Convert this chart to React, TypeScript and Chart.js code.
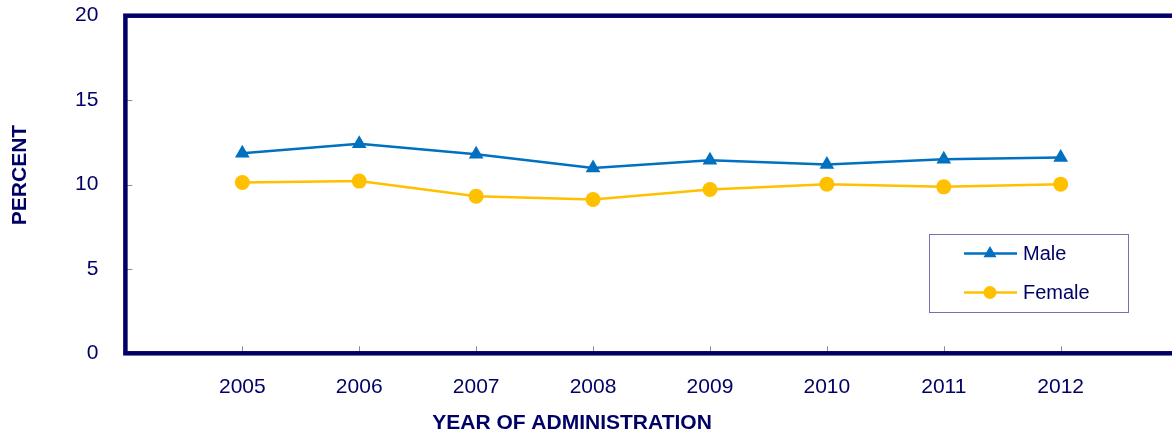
import React, { useEffect, useRef } from 'react';
import { Chart, registerables } from 'chart.js';

Chart.register(...registerables);

const years = [2005, 2006, 2007, 2008, 2009, 2010, 2011, 2012];
const maleValues = [11.85, 12.41, 11.79, 10.98, 11.44, 11.18, 11.5, 11.6];
const femaleValues = [10.12, 10.2, 9.31, 9.11, 9.7, 10.02, 9.86, 10.02];
const yTicks = [0, 5, 10, 15, 20];
const seriesNames = ['Male', 'Female'];
const xTitle = 'YEAR OF ADMINISTRATION';
const yTitle = 'PERCENT';

const NAVY = '#000066';
const MALE = '#0070C0';
const FEMALE = '#FFC000';
const FONT = '"Liberation Sans", Arial, sans-serif';

function drawMarker(ctx: CanvasRenderingContext2D, style: string, x: number, y: number, r: number, color: string) {
  ctx.fillStyle = color;
  ctx.beginPath();
  if (style === 'triangle') {
    let rad = 0;
    ctx.moveTo(x + Math.sin(rad) * r, y - Math.cos(rad) * r);
    rad += (2 * Math.PI) / 3;
    ctx.lineTo(x + Math.sin(rad) * r, y - Math.cos(rad) * r);
    rad += (2 * Math.PI) / 3;
    ctx.lineTo(x + Math.sin(rad) * r, y - Math.cos(rad) * r);
    ctx.closePath();
  } else {
    ctx.arc(x, y, r, 0, Math.PI * 2);
  }
  ctx.fill();
}

const framePlugin = {
  id: 'frame',
  afterDatasetsDraw(chart: any) {
    const { ctx, chartArea: a, scales } = chart;
    ctx.save();
    // inward tick marks
    ctx.strokeStyle = '#8c8c8c';
    ctx.lineWidth = 1;
    yTicks.forEach((v) => {
      const y = Math.round(scales.y.getPixelForValue(v)) + 0.5;
      ctx.beginPath();
      ctx.moveTo(a.left, y);
      ctx.lineTo(a.left + 7, y);
      ctx.stroke();
    });
    years.forEach((v) => {
      const x = Math.round(scales.x.getPixelForValue(v)) + 0.5;
      ctx.beginPath();
      ctx.moveTo(x, a.bottom);
      ctx.lineTo(x, a.bottom - 7);
      ctx.stroke();
    });
    // frame
    ctx.strokeStyle = NAVY;
    ctx.lineWidth = 4.5;
    ctx.strokeRect(a.left, a.top, a.right - a.left, a.bottom - a.top);

    // axis titles
    ctx.fillStyle = NAVY;
    ctx.font = `bold 21px ${FONT}`;
    ctx.textAlign = 'center';
    ctx.textBaseline = 'alphabetic';
    ctx.fillText(xTitle, 572, 429);
    ctx.save();
    ctx.translate(26, 175);
    ctx.rotate(-Math.PI / 2);
    ctx.fillText(yTitle, 0, 0);
    ctx.restore();

    // legend
    const bx = 929.5, by = 234.5, bw = 199, bh = 78;
    ctx.fillStyle = '#ffffff';
    ctx.fillRect(bx, by, bw, bh);
    ctx.strokeStyle = '#7373b0';
    ctx.lineWidth = 1;
    ctx.strokeRect(bx, by, bw, bh);
    const rowsY = [253.5, 292.5];
    chart.data.datasets.forEach((ds: any, i: number) => {
      const y = rowsY[i];
      ctx.strokeStyle = ds.borderColor;
      ctx.lineWidth = 2.5;
      ctx.beginPath();
      ctx.moveTo(964, y);
      ctx.lineTo(1017, y);
      ctx.stroke();
      drawMarker(ctx, ds.pointStyle, 990, y, ds.pointStyle === 'triangle' ? 7.5 : 6.5, ds.borderColor);
      ctx.fillStyle = NAVY;
      ctx.font = `20px ${FONT}`;
      ctx.textAlign = 'left';
      ctx.textBaseline = 'middle';
      ctx.fillText(ds.label, 1023, y + 1);
    });
    ctx.restore();
  },
};

export default function App() {
  const ref = useRef<HTMLCanvasElement>(null);
  useEffect(() => {
    if (!ref.current) return;
    const chart = new Chart(ref.current, {
      type: 'line',
      data: {
        datasets: [
          {
            label: seriesNames[0],
            data: years.map((x, i) => ({ x, y: maleValues[i] })),
            borderColor: MALE,
            backgroundColor: MALE,
            borderWidth: 2.5,
            pointStyle: 'triangle',
            pointRadius: 8.5,
            pointBorderWidth: 0,
            pointBackgroundColor: MALE,
            tension: 0,
          },
          {
            label: seriesNames[1],
            data: years.map((x, i) => ({ x, y: femaleValues[i] })),
            borderColor: FEMALE,
            backgroundColor: FEMALE,
            borderWidth: 2.5,
            pointStyle: 'circle',
            pointRadius: 7.5,
            pointBorderWidth: 0,
            pointBackgroundColor: FEMALE,
            tension: 0,
          },
        ],
      },
      options: {
        animation: false,
        responsive: false,
        devicePixelRatio: 1,
        layout: { padding: { top: 15.7, right: 12.4, left: 0, bottom: 0 } },
        plugins: { legend: { display: false }, tooltip: { enabled: false } },
        scales: {
          x: {
            type: 'linear',
            min: years[0] - 1,
            max: years[years.length - 1] + 1,
            grid: { display: false },
            border: { display: false },
            afterFit: (s: any) => {
              s.height = 80.7;
              s.paddingLeft = 0;
              s.paddingRight = 0;
            },
            ticks: {
              stepSize: 1,
              autoSkip: false,
              maxRotation: 0,
              padding: 13,
              color: NAVY,
              font: { family: FONT, size: 21 },
              callback: (v: any) => (years.includes(Number(v)) ? String(v) : ''),
            },
          },
          y: {
            min: yTicks[0],
            max: yTicks[yTicks.length - 1],
            grid: { display: false },
            border: { display: false },
            afterFit: (s: any) => {
              s.width = 125.4;
              s.paddingTop = 0;
              s.paddingBottom = 0;
            },
            ticks: {
              stepSize: 5,
              padding: 19,
              color: NAVY,
              font: { family: FONT, size: 21 },
            },
          },
        },
      },
      plugins: [framePlugin],
    });
    return () => chart.destroy();
  }, []);
  return (
    <div style={{ position: 'absolute', left: 0, top: 0, width: 1172, height: 434, overflow: 'hidden', background: '#fff' }}>
      <canvas ref={ref} width={1190} height={434} style={{ width: 1190, height: 434, display: 'block' }} />
    </div>
  );
}
